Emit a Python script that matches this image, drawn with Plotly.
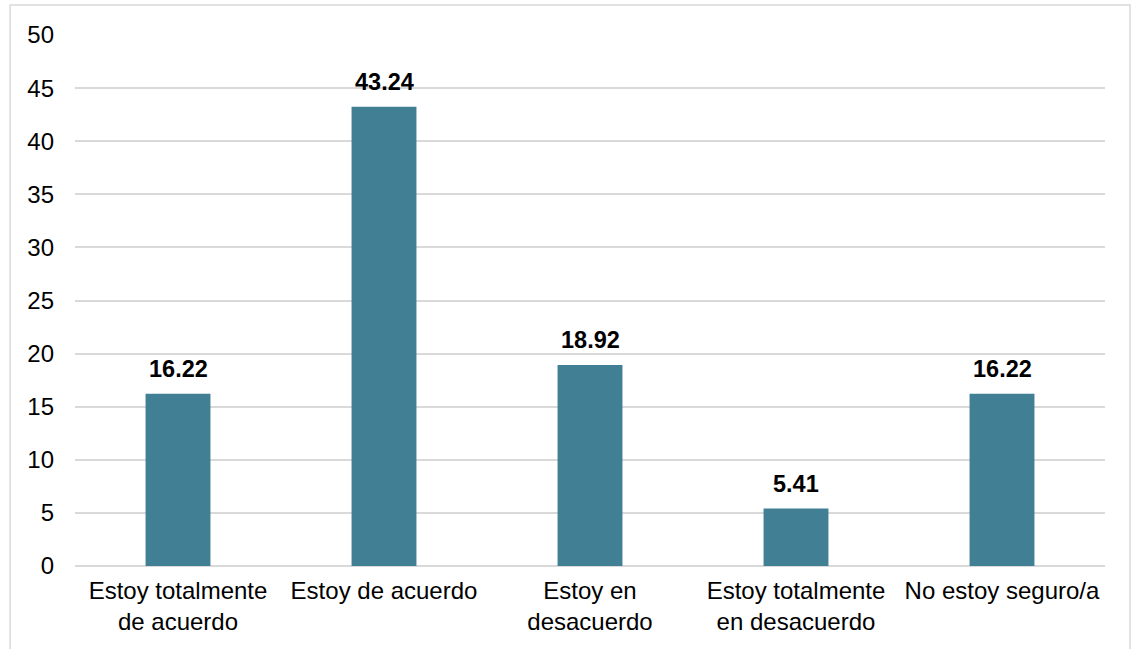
import plotly.graph_objects as go

categories = ["Estoy totalmente<br>de acuerdo", "Estoy de acuerdo", "Estoy en<br>desacuerdo",
              "Estoy totalmente<br>en desacuerdo", "No estoy seguro/a"]
values = [16.22, 43.24, 18.92, 5.41, 16.22]
y_ticks = [0, 5, 10, 15, 20, 25, 30, 35, 40, 45, 50]

bar_color = "#407F94"
grid_color = "#D9D9D9"
font_family = "Liberation Sans, Arial, sans-serif"

fig = go.Figure()
fig.add_trace(go.Bar(x=categories, y=values, marker=dict(color=bar_color, line=dict(width=0)),
                     width=0.315, hoverinfo="skip"))

for c, v in zip(categories, values):
    fig.add_annotation(x=c, y=v, text=f"<b>{v:.2f}</b>", showarrow=False, yanchor="bottom",
                       yshift=10, font=dict(size=23.5, color="black", family=font_family))

fig.add_shape(type="rect", xref="paper", yref="paper", x0=-0.063, x1=1.0243, y0=-0.18, y1=1.0565,
              line=dict(color=grid_color, width=1.5), layer="below")

fig.update_layout(
    width=1134, height=649,
    margin=dict(l=75, r=29, t=35, b=83),
    plot_bgcolor="white", paper_bgcolor="white",
    showlegend=False,
    font=dict(family=font_family, size=24, color="black"),
    xaxis=dict(showgrid=False, showline=False, zeroline=False, ticks="", tickangle=0,
               tickfont=dict(size=24, color="black"), ticklabelstandoff=8),
    yaxis=dict(range=[0, 50], tickvals=y_ticks, showgrid=True, gridcolor=grid_color, gridwidth=1.5,
               zeroline=True, zerolinecolor=grid_color, zerolinewidth=1.5, showline=False,
               ticks="", tickfont=dict(size=24, color="black"), ticklabelstandoff=20),
)

fig.write_html("out.html")
